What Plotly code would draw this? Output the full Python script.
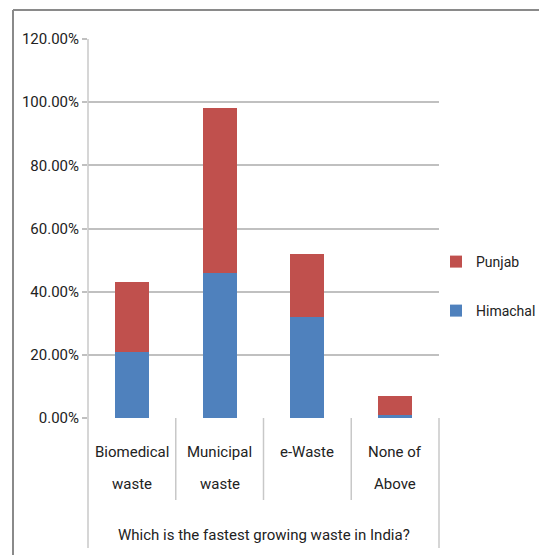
import plotly.graph_objects as go

categories = ["Biomedical waste", "Municipal waste", "e-Waste", "None of Above"]
label_line1 = ["Biomedical", "Municipal", "e-Waste", "None of"]
label_line2 = ["waste", "waste", "", "Above"]
himachal = [0.21, 0.46, 0.32, 0.01]
punjab = [0.22, 0.52, 0.20, 0.06]
axis_title = "Which is the fastest growing waste in India?"
y_ticks = [0, 0.2, 0.4, 0.6, 0.8, 1.0, 1.2]

FONT = "Roboto, sans-serif"
W, H = 539, 555
L, R, T, B = 88, 439, 39, 418

def px(x):
    return (x - L) / (R - L)

def py(y):
    return (B - y) / (B - T)

fig = go.Figure()
fig.add_trace(go.Bar(x=categories, y=himachal, name="Himachal", marker_color="#4F81BD",
                     marker_line_width=0, legend="legend2", showlegend=True))
fig.add_trace(go.Bar(x=categories, y=punjab, name="Punjab", marker_color="#C0504D",
                     marker_line_width=0, legend="legend", showlegend=True))

shapes = []
shapes.append(dict(type="line", xref="paper", yref="paper", x0=px(13), x1=px(560), y0=py(10), y1=py(10),
                   line=dict(color="#8a8a8a", width=2)))
shapes.append(dict(type="line", xref="paper", yref="paper", x0=px(13), x1=px(13), y0=py(10), y1=py(560),
                   line=dict(color="#8a8a8a", width=2)))
shapes.append(dict(type="line", xref="paper", yref="paper", x0=0, x1=0, y0=1, y1=py(548),
                   line=dict(color="#c8c8c8", width=1.5)))
shapes.append(dict(type="line", xref="paper", yref="paper", x0=1, x1=1, y0=0, y1=py(548),
                   line=dict(color="#c8c8c8", width=1.5)))
for i in range(1, len(categories)):
    shapes.append(dict(type="line", xref="x", yref="paper", x0=i - 0.5, x1=i - 0.5, y0=0, y1=py(500),
                       line=dict(color="#c8c8c8", width=1.5)))

annotations = []
for c, l1, l2 in zip(categories, label_line1, label_line2):
    annotations.append(dict(x=c, y=py(452), xref="x", yref="paper", text=l1, showarrow=False,
                            font=dict(family=FONT, size=15, color="#222"), yanchor="middle"))
    if l2:
        annotations.append(dict(x=c, y=py(484), xref="x", yref="paper", text=l2, showarrow=False,
                                font=dict(family=FONT, size=15, color="#222"), yanchor="middle"))
annotations.append(dict(x=0.5, y=py(535), xref="paper", yref="paper", text=axis_title, showarrow=False,
                        font=dict(family=FONT, size=15, color="#222"), yanchor="middle"))

fig.update_layout(
    width=W, height=H,
    margin=dict(l=L, r=W - R, t=T, b=H - B, pad=0, autoexpand=False),
    barmode="stack",
    bargap=0.61,
    showlegend=True,
    plot_bgcolor="white", paper_bgcolor="white",
    font=dict(family=FONT, size=15, color="#222"),
    xaxis=dict(showticklabels=False, showgrid=False, showline=False, zeroline=False, ticks=""),
    yaxis=dict(range=[0, 1.2], tickvals=y_ticks, tickformat=".2%", showgrid=True,
               gridcolor="#c0c0c0", gridwidth=1.5, zeroline=False, showline=False,
               ticks="outside", ticklen=5, tickcolor="#c0c0c0", tickwidth=1.5,
               tickfont=dict(family=FONT, size=15, color="#222")),
    legend=dict(x=px(436), y=py(262), xanchor="left", yanchor="middle",
                font=dict(family=FONT, size=14, color="#222"), bgcolor="rgba(0,0,0,0)"),
    legend2=dict(x=px(436), y=py(311), xanchor="left", yanchor="middle",
                 font=dict(family=FONT, size=14, color="#222"), bgcolor="rgba(0,0,0,0)"),
    shapes=shapes,
    annotations=annotations,
)

fig.write_html("out.html")
